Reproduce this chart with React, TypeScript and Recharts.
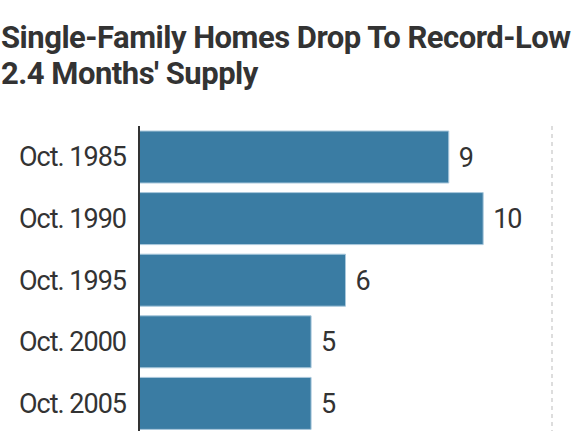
import React from "react";
import { BarChart, Bar, XAxis, YAxis, LabelList, ReferenceLine } from "recharts";

const periods = ["Oct. 1985", "Oct. 1990", "Oct. 1995", "Oct. 2000", "Oct. 2005"];
const monthsSupply = [9, 10, 6, 5, 5];

const FONT = "Roboto, 'DejaVu Sans Condensed', sans-serif";

export default function App() {
  const data = periods.map((period, i) => ({ period, value: monthsSupply[i] }));

  return (
    <div
      style={{
        position: "absolute",
        top: 0,
        left: 0,
        width: 575,
        height: 431,
        overflow: "hidden",
        background: "#fff",
        fontFamily: FONT,
      }}
    >
      <div
        style={{
          position: "absolute",
          left: 1,
          top: 20,
          fontSize: 31,
          lineHeight: "36px",
          fontWeight: 700,
          color: "#333",
          whiteSpace: "nowrap",
          letterSpacing: -0.5,
        }}
      >
        Single-Family Homes Drop To Record-Low
        <br />
        2.4 Months' Supply
      </div>
      <div style={{ position: "absolute", top: 0, left: 0 }}>
        <BarChart
          width={575}
          height={434}
          data={data}
          layout="vertical"
          margin={{ top: 126, right: 23, bottom: 0, left: 0 }}
        >
          <XAxis type="number" domain={[0, 12]} hide />
          <YAxis
            type="category"
            dataKey="period"
            width={139}
            axisLine={{ stroke: "#333", strokeWidth: 2 }}
            tickLine={false}
            tickMargin={7}
            tick={{ fontSize: 27, fill: "#333", fontFamily: FONT, letterSpacing: -1 }}
          />
          <ReferenceLine x={12} stroke="#ddd" strokeWidth={2} strokeDasharray="4 4" />
          <Bar
            dataKey="value"
            fill="#3a7ca3"
            stroke="#a9c8dc"
            strokeWidth={1}
            barSize={52}
            isAnimationActive={false}
          >
            <LabelList
              dataKey="value"
              position="right"
              offset={10}
              style={{ fontSize: 27, fill: "#333", fontFamily: FONT, letterSpacing: -1 }}
            />
          </Bar>
        </BarChart>
      </div>
    </div>
  );
}
